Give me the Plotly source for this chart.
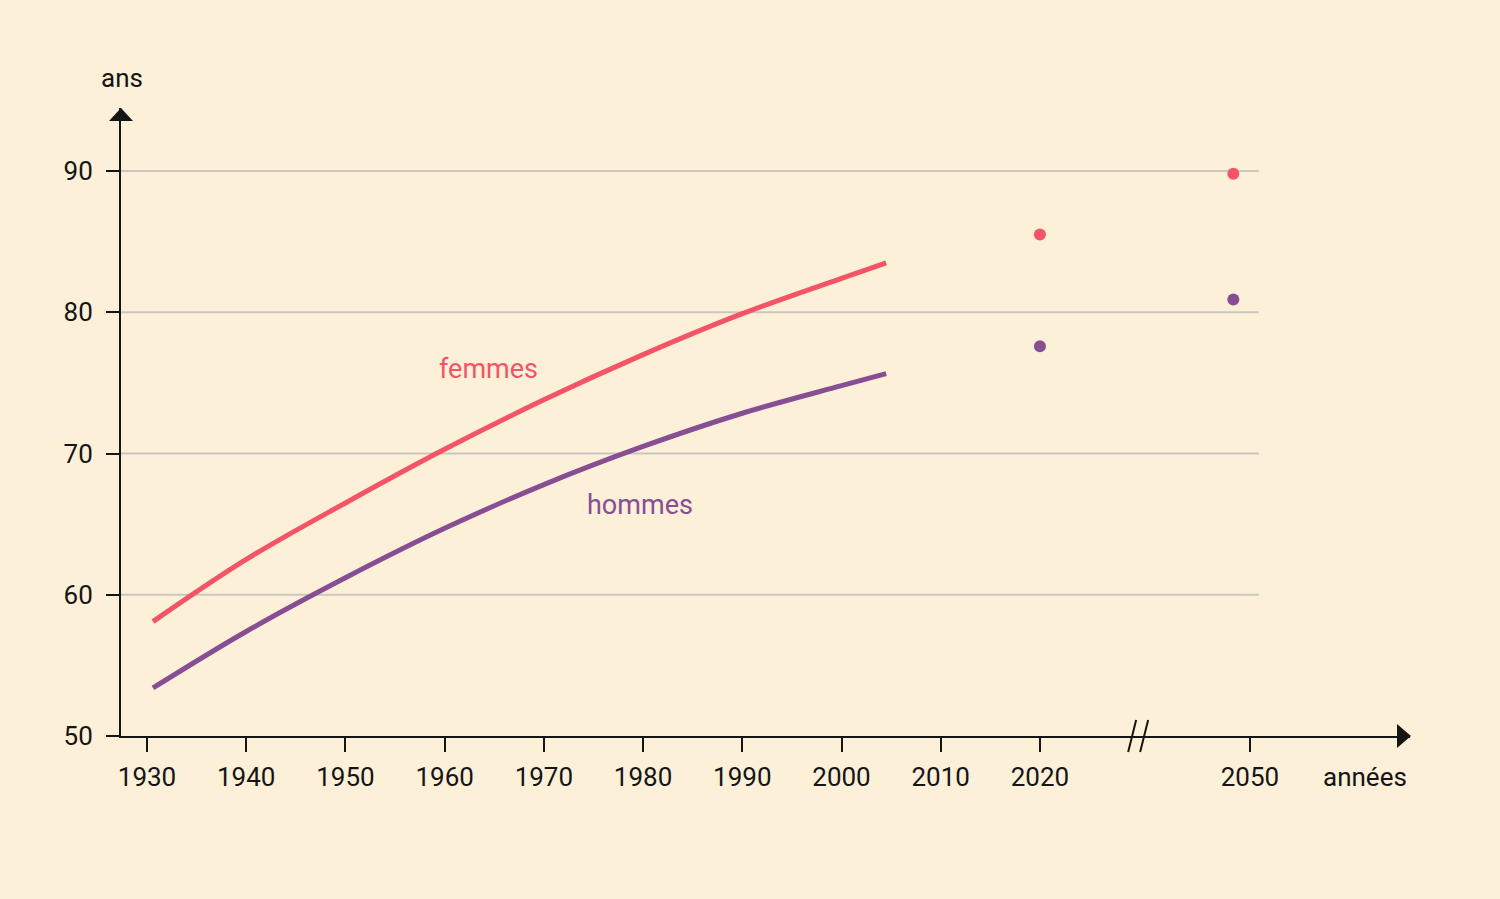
import plotly.graph_objects as go

# Espérance de vie à la naissance (France)
annees = [1930.6, 1940, 1950, 1960, 1970, 1980, 1990, 2000, 2004.5]
femmes = [58.1, 62.5, 66.5, 70.3, 73.8, 77.0, 79.9, 82.4, 83.5]
hommes = [53.4, 57.4, 61.2, 64.7, 67.8, 70.5, 72.85, 74.8, 75.65]

# Projections
annees_proj = [2020, 2047]
femmes_proj = [85.5, 89.8]
hommes_proj = [77.6, 80.9]

ticks_x = [1930, 1940, 1950, 1960, 1970, 1980, 1990, 2000, 2010, 2020, 2050]
ticks_y = [50, 60, 70, 80, 90]

ROUGE = "#f45467"
VIOLET = "#874e94"
FOND = "#fdf0d8"
NOIR = "#151515"
POLICE = "Roboto"

# axe des x avec coupure après 2030
COUPURE = 2030
COMPRESSION = 0.5585
X_MIN, X_MAX = 1927.38, 2057.3


def pos(annee):
    if annee <= COUPURE:
        return annee
    return COUPURE + (annee - COUPURE) * COMPRESSION


fig = go.Figure()

# lignes de grille (ne vont pas jusqu'au bout de l'axe)
for v in ticks_y[1:]:
    fig.add_shape(type="line", xref="x", yref="y", x0=X_MIN, x1=pos(2051.6), y0=v, y1=v,
                  line=dict(color="#c9c7c0", width=2), layer="below")

fig.add_trace(go.Scatter(x=[pos(a) for a in annees], y=femmes, mode="lines",
                         line=dict(color=ROUGE, width=5, shape="spline", smoothing=1.0),
                         hoverinfo="skip", showlegend=False))
fig.add_trace(go.Scatter(x=[pos(a) for a in annees], y=hommes, mode="lines",
                         line=dict(color=VIOLET, width=5, shape="spline", smoothing=1.0),
                         hoverinfo="skip", showlegend=False))
fig.add_trace(go.Scatter(x=[pos(a) for a in annees_proj], y=femmes_proj, mode="markers",
                         marker=dict(color=ROUGE, size=12), showlegend=False))
fig.add_trace(go.Scatter(x=[pos(a) for a in annees_proj], y=hommes_proj, mode="markers",
                         marker=dict(color=VIOLET, size=12), showlegend=False))

# flèches des axes
fig.add_shape(type="path", xref="paper", yref="paper", xsizemode="pixel", ysizemode="pixel",
              xanchor=0, yanchor=1, path="M -12,-13 L 12,-13 L 0,0 Z",
              fillcolor=NOIR, line=dict(width=0))
fig.add_shape(type="path", xref="paper", yref="paper", xsizemode="pixel", ysizemode="pixel",
              xanchor=1, yanchor=0, path="M -13,-12 L -13,12 L 1,0 Z",
              fillcolor=NOIR, line=dict(width=0))

# coupure de l'axe
fig.add_shape(type="path", xref="paper", yref="paper", xsizemode="pixel", ysizemode="pixel",
              xanchor=(pos(COUPURE) - X_MIN) / (X_MAX - X_MIN), yanchor=0,
              path="M -11,-16 L -3,16 M 1,-16 L 9,16",
              line=dict(color=NOIR, width=2))

fig.add_annotation(x=pos(1964.4), y=76.0, text="femmes", showarrow=False,
                   font=dict(family=POLICE, size=27, color=ROUGE))
fig.add_annotation(x=pos(1979.7), y=66.35, text="hommes", showarrow=False,
                   font=dict(family=POLICE, size=27, color=VIOLET))
fig.add_annotation(x=0.001, y=1.0478, xref="paper", yref="paper", text="ans", showarrow=False,
                   xanchor="center", yanchor="middle",
                   font=dict(family=POLICE, size=26, color=NOIR))
fig.add_annotation(x=0.965, y=-0.0653, xref="paper", yref="paper", text="années", showarrow=False,
                   xanchor="center", yanchor="middle",
                   font=dict(family=POLICE, size=26, color=NOIR))

fig.update_xaxes(range=[X_MIN, X_MAX], tickvals=[pos(a) for a in ticks_x], ticktext=[str(a) for a in ticks_x],
                 showgrid=False, zeroline=False, showline=True, linecolor=NOIR, linewidth=2,
                 ticks="outside", ticklen=14, tickwidth=2, tickcolor=NOIR, ticklabelstandoff=3,
                 tickfont=dict(family=POLICE, size=26, color=NOIR))
fig.update_yaxes(range=[50, 94.46], tickvals=ticks_y, showgrid=False, zeroline=False,
                 showline=True, linecolor=NOIR, linewidth=2,
                 ticks="outside", ticklen=13, tickwidth=2, tickcolor=NOIR, ticklabelstandoff=8,
                 tickfont=dict(family=POLICE, size=26, color=NOIR))

fig.update_layout(
    width=1500, height=899,
    margin=dict(l=121, r=90, t=108, b=163),
    paper_bgcolor=FOND, plot_bgcolor=FOND,
    showlegend=False,
)

fig.write_html("out.html", config={"displayModeBar": False},
               post_script="document.body.style.margin='0';document.body.style.overflow='hidden';")
